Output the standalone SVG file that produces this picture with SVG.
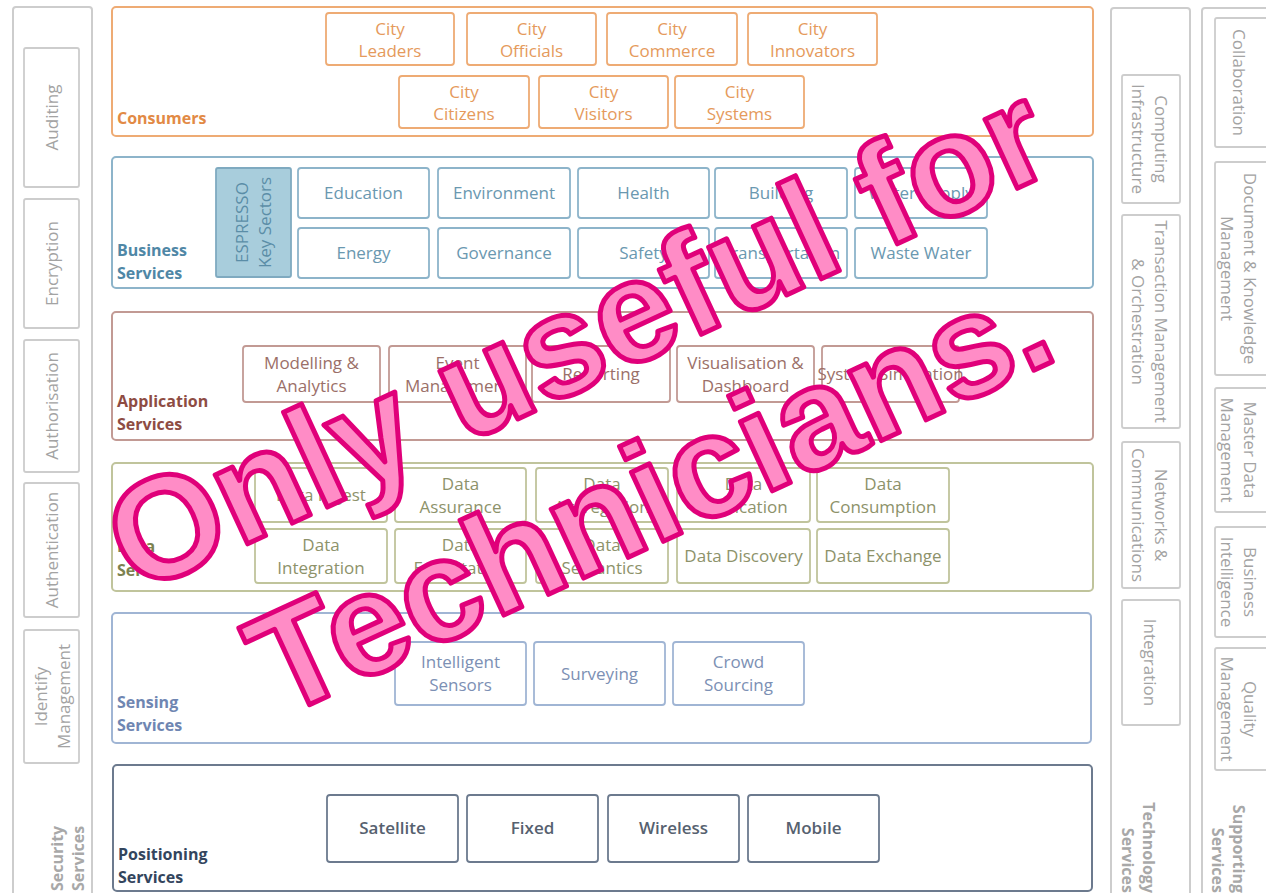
<svg xmlns="http://www.w3.org/2000/svg" width="1266" height="893" viewBox="0 0 1266 893">
<style>
  text { font-family: "Open Sans", "Noto Sans", "DejaVu Sans", sans-serif; font-size: 17px; }
  .c { text-anchor: middle; }
  .lbl { font-size: 16px; font-weight: bold; }
  .box { fill: #ffffff; stroke-width: 1.8; }
  .outer { fill: #ffffff; stroke-width: 2; }
  .cons { stroke: #EEAB74; } .cons-t { fill: #E59A5C; } .cons-l { fill: #E28A45; }
  .bus { stroke: #8DB4CA; } .bus-t { fill: #6A98B0; } .bus-l { fill: #4F87A6; }
  .app { stroke: #C29A94; } .app-t { fill: #9B6F68; } .app-l { fill: #8E4C43; }
  .dat { stroke: #C0C49C; } .dat-t { fill: #8D926A; } .dat-l { fill: #7C8250; }
  .sen { stroke: #A0B5D4; } .sen-t { fill: #7C90B4; } .sen-l { fill: #6F86B2; }
  .pos { stroke: #6C7A8E; } .pos-t { fill: #56616F; font-weight: 600; } .pos-l { fill: #33455D; }
  .side { stroke: #CDCDCD; } .side-t { fill: #A3A3A3; } .side-l { fill: #A8A8A8; font-size: 16px; font-weight: bold; }
  .wm { font-family: "Liberation Sans", Arial, sans-serif; font-size: 144px; font-weight: bold; fill: #FF8CC6; stroke: #E0007A; stroke-width: 5; stroke-linejoin: round; text-anchor: middle; }
</style>
<rect x="0" y="0" width="1266" height="893" fill="#ffffff"/>

<!-- Security Services column -->
<g id="security-services">
  <rect class="outer side" x="13" y="7" width="79" height="900" rx="3"/>
  <text class="side-l" transform="translate(63,891) rotate(-90)"><tspan x="0" y="0">Security</tspan><tspan x="0" y="21">Services</tspan></text>
</g>
<g id="auditing"><rect class="box side" x="24" y="48" width="55" height="139" rx="2"/><text class="c side-t" transform="translate(51.5,117.5) rotate(-90)"><tspan x="0" y="6">Auditing</tspan></text></g>
<g id="encryption"><rect class="box side" x="24" y="199" width="55" height="129" rx="2"/><text class="c side-t" transform="translate(51.5,263.5) rotate(-90)"><tspan x="0" y="6">Encryption</tspan></text></g>
<g id="authorisation"><rect class="box side" x="24" y="340" width="55" height="132" rx="2"/><text class="c side-t" transform="translate(51.5,406) rotate(-90)"><tspan x="0" y="6">Authorisation</tspan></text></g>
<g id="authentication"><rect class="box side" x="24" y="483" width="55" height="134" rx="2"/><text class="c side-t" transform="translate(51.5,550) rotate(-90)"><tspan x="0" y="6">Authentication</tspan></text></g>
<g id="identify-management"><rect class="box side" x="24" y="630" width="55" height="133" rx="2"/><text class="c side-t" transform="translate(51.5,696.5) rotate(-90)"><tspan x="0" y="-5">Identify</tspan><tspan x="0" y="18">Management</tspan></text></g>

<!-- Technology Services column -->
<g id="technology-services">
  <rect class="outer side" x="1111" y="8" width="79" height="900" rx="3"/>
  <text class="side-l" text-anchor="end" transform="translate(1143,893) rotate(90)"><tspan x="0" y="0">Technology</tspan><tspan x="0" y="21">Services</tspan></text>
</g>
<g id="computing-infrastructure"><rect class="box side" x="1122" y="75" width="58" height="128" rx="2"/><text class="c side-t" transform="translate(1150,139) rotate(90)"><tspan x="0" y="-5">Computing</tspan><tspan x="0" y="18">Infrastructure</tspan></text></g>
<g id="transaction-management"><rect class="box side" x="1122" y="215" width="58" height="213" rx="2"/><text class="c side-t" transform="translate(1150,321.5) rotate(90)"><tspan x="0" y="-5">Transaction Management</tspan><tspan x="0" y="18">&amp; Orchestration</tspan></text></g>
<g id="networks-communications"><rect class="box side" x="1122" y="442" width="58" height="146" rx="2"/><text class="c side-t" transform="translate(1150,515) rotate(90)"><tspan x="0" y="-5">Networks &amp;</tspan><tspan x="0" y="18">Communications</tspan></text></g>
<g id="integration"><rect class="box side" x="1122" y="600" width="58" height="125" rx="2"/><text class="c side-t" transform="translate(1150,662.5) rotate(90)"><tspan x="0" y="6">Integration</tspan></text></g>

<!-- Supporting Services column -->
<g id="supporting-services">
  <rect class="outer side" x="1202" y="8" width="100" height="900" rx="3"/>
  <text class="side-l" text-anchor="end" transform="translate(1233,893) rotate(90)"><tspan x="0" y="0">Supporting</tspan><tspan x="0" y="21">Services</tspan></text>
</g>
<g id="collaboration"><rect class="box side" x="1215" y="18" width="70" height="129" rx="2"/><text class="c side-t" transform="translate(1239,82.5) rotate(90)"><tspan x="0" y="6">Collaboration</tspan></text></g>
<g id="document-knowledge-management"><rect class="box side" x="1215" y="162" width="70" height="213" rx="2"/><text class="c side-t" transform="translate(1239,268.5) rotate(90)"><tspan x="0" y="-5">Document &amp; Knowledge</tspan><tspan x="0" y="18">Management</tspan></text></g>
<g id="master-data-management"><rect class="box side" x="1215" y="388" width="70" height="124" rx="2"/><text class="c side-t" transform="translate(1239,450) rotate(90)"><tspan x="0" y="-5">Master Data</tspan><tspan x="0" y="18">Management</tspan></text></g>
<g id="business-intelligence"><rect class="box side" x="1215" y="527" width="70" height="110" rx="2"/><text class="c side-t" transform="translate(1239,582) rotate(90)"><tspan x="0" y="-5">Business</tspan><tspan x="0" y="18">Intelligence</tspan></text></g>
<g id="quality-management"><rect class="box side" x="1215" y="648" width="70" height="122" rx="2"/><text class="c side-t" transform="translate(1239,709) rotate(90)"><tspan x="0" y="-5">Quality</tspan><tspan x="0" y="18">Management</tspan></text></g>

<!-- Consumers -->
<g id="consumers">
  <rect class="outer cons" x="112" y="7" width="981" height="129" rx="4"/>
  <text class="lbl cons-l" x="117" y="124">Consumers</text>
</g>
<g id="city-leaders"><rect class="box cons" x="326" y="13" width="128" height="52" rx="3"/><text class="c cons-t"><tspan x="390" y="35">City</tspan><tspan x="390" y="57">Leaders</tspan></text></g>
<g id="city-officials"><rect class="box cons" x="467" y="13" width="129" height="52" rx="3"/><text class="c cons-t"><tspan x="531.5" y="35">City</tspan><tspan x="531.5" y="57">Officials</tspan></text></g>
<g id="city-commerce"><rect class="box cons" x="607" y="13" width="130" height="52" rx="3"/><text class="c cons-t"><tspan x="672" y="35">City</tspan><tspan x="672" y="57">Commerce</tspan></text></g>
<g id="city-innovators"><rect class="box cons" x="748" y="13" width="129" height="52" rx="3"/><text class="c cons-t"><tspan x="812.5" y="35">City</tspan><tspan x="812.5" y="57">Innovators</tspan></text></g>
<g id="city-citizens"><rect class="box cons" x="399" y="76" width="130" height="52" rx="3"/><text class="c cons-t"><tspan x="464" y="98">City</tspan><tspan x="464" y="120">Citizens</tspan></text></g>
<g id="city-visitors"><rect class="box cons" x="539" y="76" width="129" height="52" rx="3"/><text class="c cons-t"><tspan x="603.5" y="98">City</tspan><tspan x="603.5" y="120">Visitors</tspan></text></g>
<g id="city-systems"><rect class="box cons" x="675" y="76" width="129" height="52" rx="3"/><text class="c cons-t"><tspan x="739.5" y="98">City</tspan><tspan x="739.5" y="120">Systems</tspan></text></g>

<!-- Business Services -->
<g id="business-services">
  <rect class="outer bus" x="112" y="157" width="981" height="131" rx="4"/>
  <text class="lbl bus-l"><tspan x="117" y="256">Business</tspan><tspan x="117" y="279">Services</tspan></text>
</g>
<g id="espresso-key-sectors"><rect x="216" y="168" width="75" height="109" fill="#A8CDDC" stroke="#7FAAC0" stroke-width="1.8" rx="2"/><text class="c" fill="#5B8DA7" transform="translate(253.5,222.5) rotate(-90)"><tspan x="0" y="-6">ESPRESSO</tspan><tspan x="0" y="17">Key Sectors</tspan></text></g>
<g id="education"><rect class="box bus" x="298" y="168" width="131" height="50" rx="3"/><text class="c bus-t" x="363.5" y="199">Education</text></g>
<g id="environment"><rect class="box bus" x="438" y="168" width="132" height="50" rx="3"/><text class="c bus-t" x="504" y="199">Environment</text></g>
<g id="health"><rect class="box bus" x="578" y="168" width="131" height="50" rx="3"/><text class="c bus-t" x="643.5" y="199">Health</text></g>
<g id="building"><rect class="box bus" x="715" y="168" width="132" height="50" rx="3"/><text class="c bus-t" x="781" y="199">Building</text></g>
<g id="water-supply"><rect class="box bus" x="855" y="168" width="132" height="50" rx="3"/><text class="c bus-t" x="921" y="199">Water Supply</text></g>
<g id="energy"><rect class="box bus" x="298" y="228" width="131" height="50" rx="3"/><text class="c bus-t" x="363.5" y="259">Energy</text></g>
<g id="governance"><rect class="box bus" x="438" y="228" width="132" height="50" rx="3"/><text class="c bus-t" x="504" y="259">Governance</text></g>
<g id="safety"><rect class="box bus" x="578" y="228" width="131" height="50" rx="3"/><text class="c bus-t" x="643.5" y="259">Safety</text></g>
<g id="transportation"><rect class="box bus" x="715" y="228" width="132" height="50" rx="3"/><text class="c bus-t" x="781" y="259">Transportation</text></g>
<g id="waste-water"><rect class="box bus" x="855" y="228" width="132" height="50" rx="3"/><text class="c bus-t" x="921" y="259">Waste Water</text></g>

<!-- Application Services -->
<g id="application-services">
  <rect class="outer app" x="112" y="312" width="981" height="128" rx="4"/>
  <text class="lbl app-l"><tspan x="117" y="407">Application</tspan><tspan x="117" y="430">Services</tspan></text>
</g>
<g id="modelling-analytics"><rect class="box app" x="243" y="346" width="137" height="56" rx="3"/><text class="c app-t"><tspan x="311.5" y="369">Modelling &amp;</tspan><tspan x="311.5" y="392">Analytics</tspan></text></g>
<g id="event-management"><rect class="box app" x="389" y="346" width="137" height="56" rx="3"/><text class="c app-t"><tspan x="457.5" y="369">Event</tspan><tspan x="457.5" y="392">Management</tspan></text></g>
<g id="reporting"><rect class="box app" x="532" y="346" width="138" height="56" rx="3"/><text class="c app-t" x="601" y="380">Reporting</text></g>
<g id="visualisation-dashboard"><rect class="box app" x="677" y="346" width="137" height="56" rx="3"/><text class="c app-t"><tspan x="745.5" y="369">Visualisation &amp;</tspan><tspan x="745.5" y="392">Dashboard</tspan></text></g>
<g id="system-simulation"><rect class="box app" x="822" y="346" width="137" height="56" rx="3"/><text class="c app-t" x="890.5" y="380">System Simulation</text></g>

<!-- Data Services -->
<g id="data-services">
  <rect class="outer dat" x="112" y="463" width="981" height="128" rx="4"/>
  <text class="lbl dat-l"><tspan x="117" y="552">Data</tspan><tspan x="117" y="576">Services</tspan></text>
</g>
<g id="data-ingest"><rect class="box dat" x="255" y="468" width="132" height="54" rx="3"/><text class="c dat-t" x="321" y="501">Data Ingest</text></g>
<g id="data-assurance"><rect class="box dat" x="395" y="468" width="131" height="54" rx="3"/><text class="c dat-t"><tspan x="460.5" y="490">Data</tspan><tspan x="460.5" y="513">Assurance</tspan></text></g>
<g id="data-aggregation"><rect class="box dat" x="536" y="468" width="132" height="54" rx="3"/><text class="c dat-t"><tspan x="602" y="490">Data</tspan><tspan x="602" y="513">Aggregation</tspan></text></g>
<g id="data-publication"><rect class="box dat" x="677" y="468" width="133" height="54" rx="3"/><text class="c dat-t"><tspan x="743.5" y="490">Data</tspan><tspan x="743.5" y="513">Publication</tspan></text></g>
<g id="data-consumption"><rect class="box dat" x="817" y="468" width="132" height="54" rx="3"/><text class="c dat-t"><tspan x="883" y="490">Data</tspan><tspan x="883" y="513">Consumption</tspan></text></g>
<g id="data-integration"><rect class="box dat" x="255" y="529" width="132" height="54" rx="3"/><text class="c dat-t"><tspan x="321" y="551">Data</tspan><tspan x="321" y="574">Integration</tspan></text></g>
<g id="data-exploitation"><rect class="box dat" x="395" y="529" width="131" height="54" rx="3"/><text class="c dat-t"><tspan x="460.5" y="551">Data</tspan><tspan x="460.5" y="574">Exploitation</tspan></text></g>
<g id="data-semantics"><rect class="box dat" x="536" y="529" width="132" height="54" rx="3"/><text class="c dat-t"><tspan x="602" y="551">Data</tspan><tspan x="602" y="574">Semantics</tspan></text></g>
<g id="data-discovery"><rect class="box dat" x="677" y="529" width="133" height="54" rx="3"/><text class="c dat-t" x="743.5" y="562">Data Discovery</text></g>
<g id="data-exchange"><rect class="box dat" x="817" y="529" width="132" height="54" rx="3"/><text class="c dat-t" x="883" y="562">Data Exchange</text></g>

<!-- Sensing Services -->
<g id="sensing-services">
  <rect class="outer sen" x="112" y="613" width="979" height="130" rx="4"/>
  <text class="lbl sen-l"><tspan x="117" y="708">Sensing</tspan><tspan x="117" y="731">Services</tspan></text>
</g>
<g id="intelligent-sensors"><rect class="box sen" x="395" y="642" width="131" height="63" rx="3"/><text class="c sen-t"><tspan x="460.5" y="668">Intelligent</tspan><tspan x="460.5" y="691">Sensors</tspan></text></g>
<g id="surveying"><rect class="box sen" x="534" y="642" width="131" height="63" rx="3"/><text class="c sen-t" x="599.5" y="680">Surveying</text></g>
<g id="crowd-sourcing"><rect class="box sen" x="673" y="642" width="131" height="63" rx="3"/><text class="c sen-t"><tspan x="738.5" y="668">Crowd</tspan><tspan x="738.5" y="691">Sourcing</tspan></text></g>

<!-- Positioning Services -->
<g id="positioning-services">
  <rect class="outer pos" x="113" y="765" width="979" height="126" rx="4"/>
  <text class="lbl pos-l"><tspan x="118" y="860">Positioning</tspan><tspan x="118" y="883">Services</tspan></text>
</g>
<g id="satellite"><rect class="box pos" x="327" y="795" width="131" height="67" rx="3"/><text class="c pos-t" x="392.5" y="834">Satellite</text></g>
<g id="fixed"><rect class="box pos" x="467" y="795" width="131" height="67" rx="3"/><text class="c pos-t" x="532.5" y="834">Fixed</text></g>
<g id="wireless"><rect class="box pos" x="608" y="795" width="131" height="67" rx="3"/><text class="c pos-t" x="673.5" y="834">Wireless</text></g>
<g id="mobile"><rect class="box pos" x="748" y="795" width="131" height="67" rx="3"/><text class="c pos-t" x="813.5" y="834">Mobile</text></g>

<g id="connectors"></g>

<!-- Watermark overlay -->
<g id="watermark" transform="translate(598,382) rotate(-24.8)">
  <text class="wm" x="0" y="0">Only useful for</text>
  <text class="wm" x="0" y="172">Technicians.</text>
</g>
</svg>
